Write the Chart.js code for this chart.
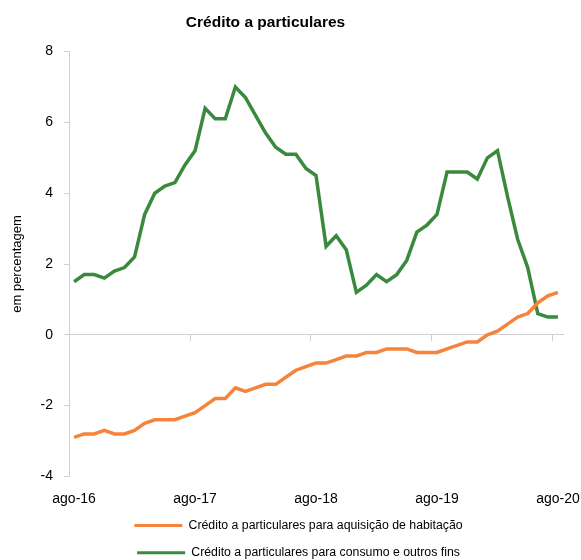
<!DOCTYPE html>
<html>
<head>
<meta charset="utf-8">
<script src="https://cdn.jsdelivr.net/npm/chart.js@4.4.1/dist/chart.umd.min.js"></script>
<style>
  html, body { margin: 0; padding: 0; background: #FFFFFF; }
  #wrap { width: 581px; height: 560px; }
</style>
</head>
<body>
<div id="wrap"><canvas id="chart" width="581" height="560"></canvas></div>
<script>
const labels = [
  'ago-16', 'set-16', 'out-16', 'nov-16', 'dez-16', 'jan-17', 'fev-17', 'mar-17', 'abr-17', 'mai-17', 'jun-17', 'jul-17',
  'ago-17', 'set-17', 'out-17', 'nov-17', 'dez-17', 'jan-18', 'fev-18', 'mar-18', 'abr-18', 'mai-18', 'jun-18', 'jul-18',
  'ago-18', 'set-18', 'out-18', 'nov-18', 'dez-18', 'jan-19', 'fev-19', 'mar-19', 'abr-19', 'mai-19', 'jun-19', 'jul-19',
  'ago-19', 'set-19', 'out-19', 'nov-19', 'dez-19', 'jan-20', 'fev-20', 'mar-20', 'abr-20', 'mai-20', 'jun-20', 'jul-20',
  'ago-20',
];

const habitacao = [
  -2.9, -2.8, -2.8, -2.7, -2.8, -2.8, -2.7, -2.5, -2.4, -2.4, -2.4, -2.3,
  -2.2, -2.0, -1.8, -1.8, -1.5, -1.6, -1.5, -1.4, -1.4, -1.2, -1.0, -0.9,
  -0.8, -0.8, -0.7, -0.6, -0.6, -0.5, -0.5, -0.4, -0.4, -0.4, -0.5, -0.5,
  -0.5, -0.4, -0.3, -0.2, -0.2, 0.0, 0.1, 0.3, 0.5, 0.6, 0.9, 1.1,
  1.2,
];

const consumo = [
  1.5, 1.7, 1.7, 1.6, 1.8, 1.9, 2.2, 3.4, 4.0, 4.2, 4.3, 4.8,
  5.2, 6.4, 6.1, 6.1, 7.0, 6.7, 6.2, 5.7, 5.3, 5.1, 5.1, 4.7,
  4.5, 2.5, 2.8, 2.4, 1.2, 1.4, 1.7, 1.5, 1.7, 2.1, 2.9, 3.1,
  3.4, 4.6, 4.6, 4.6, 4.4, 5.0, 5.2, 3.9, 2.7, 1.9, 0.6, 0.5,
  0.5,
];

const yTicks = [-4, -2, 0, 2, 4, 6, 8];

const FONT = "'Liberation Sans', Arial, sans-serif";
const AXIS_GREY = '#D0D0D0';
const TEXT = '#000000';

const showEvery12 = (ctx) => (ctx.index % 12 === 0 ? AXIS_GREY : 'rgba(0,0,0,0)');

// title sits a bit left of centre and the legend a bit right of it in the original;
// the bottom axis box is shrunk in afterFit, so give its labels room again before drawing
const nudgeBoxes = {
  id: 'nudgeBoxes',
  afterLayout(chart) {
    if (chart.titleBlock) chart.titleBlock.right -= 60;
    if (chart.legend) chart.legend.left += 6;
    if (chart.scales.x) chart.scales.x.bottom += 12;
  },
};

const ctx = document.getElementById('chart');
new Chart(ctx, {
  type: 'line',
  data: {
    labels,
    datasets: [
      {
        label: 'Crédito a particulares para aquisição de habitação',
        data: habitacao,
        borderColor: '#F5843A',
        backgroundColor: '#F5843A',
        borderWidth: 3.5,
        pointRadius: 0,
        tension: 0,
      },
      {
        label: 'Crédito a particulares para consumo e outros fins',
        data: consumo,
        borderColor: '#3A8A3E',
        backgroundColor: '#3A8A3E',
        borderWidth: 3.5,
        pointRadius: 0,
        tension: 0,
      },
    ],
  },
  options: {
    responsive: false,
    maintainAspectRatio: false,
    animation: false,
    layout: { padding: { left: 10, right: 0, top: 4, bottom: -9 } },
    plugins: {
      title: {
        display: true,
        text: 'Crédito a particulares',
        color: TEXT,
        font: { family: FONT, size: 15.5, weight: 'bold' },
        padding: { top: 9, bottom: 20 },
      },
      legend: {
        position: 'bottom',
        labels: {
          color: TEXT,
          font: { family: FONT, size: 12.3 },
          boxWidth: 48,
          boxHeight: 3,
          padding: 15,
          generateLabels: (chart) =>
            Chart.defaults.plugins.legend.labels.generateLabels(chart).map((l) => ({
              ...l,
              fillStyle: l.strokeStyle,
              lineWidth: 0,
            })),
        },
      },
      tooltip: { enabled: false },
    },
    scales: {
      x: {
        type: 'category',
        offset: true,
        grid: { display: false },
        border: { display: false },
        afterFit: (scale) => {
          scale.height = 28;
          scale.paddingRight = 18;
        },
        ticks: {
          color: TEXT,
          font: { family: FONT, size: 14 },
          autoSkip: false,
          maxRotation: 0,
          padding: 6,
          callback: (v, i) => (i % 12 === 0 ? labels[i] : ''),
        },
      },
      x2: {
        type: 'category',
        position: { y: 0 },
        offset: true,
        grid: {
          offset: true,
          drawOnChartArea: false,
          tickLength: 6,
          color: showEvery12,
        },
        border: { color: AXIS_GREY, width: 1 },
        ticks: { display: false, autoSkip: false },
      },
      y: {
        min: -4,
        max: 8,
        afterBuildTicks: (scale) => {
          scale.ticks = yTicks.map((value) => ({ value }));
        },
        grid: { drawOnChartArea: false, tickLength: 5, color: AXIS_GREY },
        border: { color: AXIS_GREY, width: 1 },
        ticks: {
          color: TEXT,
          font: { family: FONT, size: 14 },
          padding: 11,
        },
        title: {
          display: true,
          text: 'em percentagem',
          color: TEXT,
          font: { family: FONT, size: 13 },
          padding: { top: 0, bottom: 4 },
        },
      },
    },
  },
  plugins: [nudgeBoxes],
});
</script>
</body>
</html>
